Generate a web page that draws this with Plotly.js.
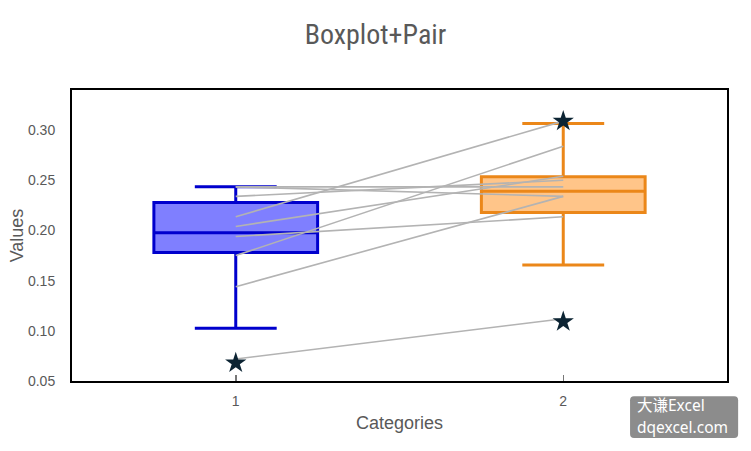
<!DOCTYPE html>
<html>
<head>
<meta charset="utf-8">
<script src="https://cdn.plot.ly/plotly-3.0.1.min.js"></script>
<style>html,body{margin:0;padding:0;background:#fff;}#chart{width:751px;height:451px;}</style>
</head>
<body>
<div id="chart"></div>
<script>
// Categories and tick labels
const categories = [1, 2];
const tickLabels = ['1', '2'];

// Box statistics per category (precomputed)
const q1 = [0.178, 0.218];
const median = [0.1977, 0.2392];
const q3 = [0.228, 0.2535];
const lowerFence = [0.1025, 0.1655];
const upperFence = [0.2435, 0.3067];

// Paired observations (category 1 -> category 2)
const pairCat1 = [0.2435, 0.2435, 0.234, 0.2137, 0.204, 0.194, 0.175, 0.144, 0.072];
const pairCat2 = [0.2435, 0.234, 0.250, 0.309, 0.254, 0.2137, 0.284, 0.234, 0.112];

// Outlier markers
const outlierX = [1, 2, 2];
const outlierY = [0.068, 0.309, 0.109];

// Watermark text lines
const watermarkLines = ['大谦Excel', 'dqexcel.com'];

const boxColors = [
  {line: 'rgb(0,0,205)', fill: 'rgba(0,0,255,0.5)'},
  {line: 'rgb(235,135,25)', fill: 'rgba(255,140,20,0.5)'}
];

const traces = [];

// pair lines (drawn beneath boxes)
const lx = [], ly = [];
for (let i = 0; i < pairCat1.length; i++) {
  lx.push(categories[0], categories[1], null);
  ly.push(pairCat1[i], pairCat2[i], null);
}
traces.push({
  type: 'scatter', mode: 'lines', x: lx, y: ly,
  line: {color: '#b3b3b3', width: 1.6}, hoverinfo: 'skip', showlegend: false
});

for (let i = 0; i < categories.length; i++) {
  traces.push({
    type: 'box', x: [categories[i]],
    q1: [q1[i]], median: [median[i]], q3: [q3[i]],
    lowerfence: [lowerFence[i]], upperfence: [upperFence[i]],
    width: 0.5, whiskerwidth: 0.5,
    line: {color: boxColors[i].line, width: 3},
    fillcolor: boxColors[i].fill,
    boxpoints: false, showlegend: false
  });
}

// outliers on overlaid axes so they are drawn on top
traces.push({
  type: 'scatter', mode: 'markers', x: outlierX, y: outlierY,
  xaxis: 'x2', yaxis: 'y2',
  marker: {symbol: 'star', size: 16, color: '#0c2433'},
  showlegend: false
});

const yRange = [0.05, 0.34];
const xRange = [0.5, 2.5];
const gray = '#595959';
const tickFont = {family: 'Liberation Sans, Arial, sans-serif', size: 14, color: gray};

// watermark background (paper coordinates), rounded corners
const wx0 = 0.852, wx1 = 1.017, wy0 = -0.196, wy1 = -0.052, rx = 0.006, ry = 0.014;
const wmPath = `M ${wx0+rx},${wy1} L ${wx1-rx},${wy1} Q ${wx1},${wy1} ${wx1},${wy1-ry} ` +
  `L ${wx1},${wy0+ry} Q ${wx1},${wy0} ${wx1-rx},${wy0} L ${wx0+rx},${wy0} ` +
  `Q ${wx0},${wy0} ${wx0},${wy0+ry} L ${wx0},${wy1-ry} Q ${wx0},${wy1} ${wx0+rx},${wy1} Z`;

const wmFont = {family: 'Noto Sans, Noto Sans CJK SC, sans-serif', size: 15.5, color: '#fff'};

const layout = {
  width: 751, height: 451,
  margin: {l: 72, r: 24, t: 90, b: 70},
  paper_bgcolor: '#fff', plot_bgcolor: '#fff',
  showlegend: false,
  title: {
    text: 'Boxplot+Pair',
    font: {family: 'Liberation Sans Narrow, Roboto Condensed, DejaVu Sans Condensed, sans-serif', size: 28, color: gray},
    x: 0.5, xanchor: 'center', y: 0.925, yanchor: 'middle'
  },
  xaxis: {
    range: xRange, tickvals: categories, ticktext: tickLabels,
    showgrid: false, zeroline: false,
    showline: true, linecolor: '#000', linewidth: 2, mirror: true,
    ticks: 'inside', ticklen: 6, tickcolor: '#777', tickwidth: 1.5,
    tickfont: tickFont, ticklabelstandoff: 6,
    title: {text: 'Categories', font: {family: 'Liberation Sans, Arial, sans-serif', size: 18, color: gray}, standoff: 9}
  },
  yaxis: {
    range: yRange, dtick: 0.05, tick0: 0.05, tickformat: '.2f',
    showgrid: false, zeroline: false,
    showline: true, linecolor: '#000', linewidth: 2, mirror: true,
    ticks: '', tickfont: tickFont, ticklabelstandoff: 12,
    title: {text: 'Values', font: {family: 'Liberation Sans, Arial, sans-serif', size: 18, color: gray}, standoff: 0}
  },
  xaxis2: {range: xRange, overlaying: 'x', visible: false, fixedrange: true},
  yaxis2: {range: yRange, overlaying: 'y', visible: false, fixedrange: true},
  shapes: [{
    type: 'path', xref: 'paper', yref: 'paper', path: wmPath,
    fillcolor: 'rgb(140,140,140)', line: {width: 0}, layer: 'above'
  }],
  annotations: [
    {xref: 'paper', yref: 'paper', x: 0.861, y: -0.0825, xanchor: 'left', yanchor: 'middle',
     text: watermarkLines[0], showarrow: false, font: wmFont, borderpad: 0},
    {xref: 'paper', yref: 'paper', x: 0.861, y: -0.158, xanchor: 'left', yanchor: 'middle',
     text: watermarkLines[1], showarrow: false, font: wmFont, borderpad: 0}
  ]
};

Plotly.newPlot('chart', traces, layout, {displayModeBar: false, staticPlot: true});
</script>
</body>
</html>
